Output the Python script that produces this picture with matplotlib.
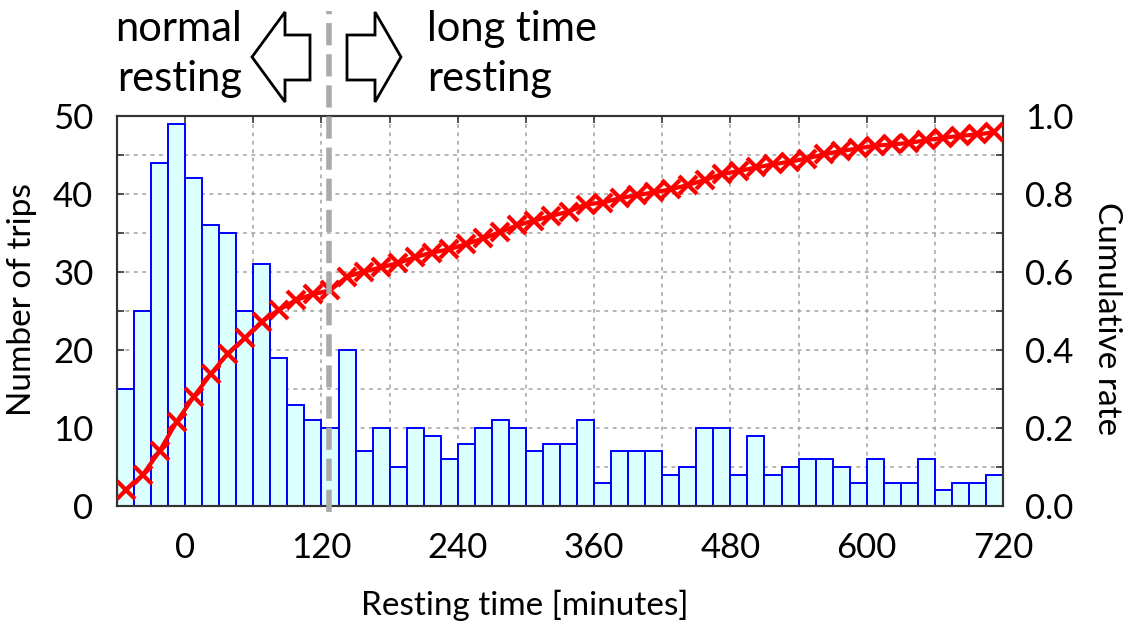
import matplotlib
matplotlib.use("Agg")
import matplotlib.pyplot as plt
import matplotlib.patches as mpatches
from matplotlib.ticker import MultipleLocator, FormatStrFormatter
import numpy as np

plt.rcParams['font.family'] = ['Lato', 'DejaVu Sans']

# histogram: 15-minute bins from -60 to 720 minutes
bin_start = -60
bin_width = 15
trip_counts = [15, 25, 44, 49, 42, 36, 35, 25, 31, 19, 13, 11, 10, 20, 7, 10, 5, 10,
               9, 6, 8, 10, 11, 10, 7, 8, 8, 11, 3, 7, 7, 7, 4, 5, 10, 10, 4, 9,
               4, 5, 6, 6, 5, 3, 6, 3, 3, 6, 2, 3, 3, 4]
# cumulative rate at each bin centre
cumulative_rate = [0.041, 0.079, 0.141, 0.216, 0.280, 0.338, 0.391, 0.430, 0.473, 0.503,
                   0.528, 0.543, 0.553, 0.588, 0.601, 0.612, 0.623, 0.638, 0.650, 0.658,
                   0.672, 0.686, 0.703, 0.720, 0.732, 0.744, 0.755, 0.773, 0.778, 0.789,
                   0.797, 0.804, 0.812, 0.823, 0.836, 0.851, 0.859, 0.868, 0.876, 0.883,
                   0.891, 0.902, 0.910, 0.917, 0.924, 0.927, 0.931, 0.938, 0.944, 0.949,
                   0.953, 0.958]
x_ticks = [0, 120, 240, 360, 480, 600, 720]
threshold = 127  # boundary between normal and long time resting

edges = bin_start + bin_width * np.arange(len(trip_counts))
centres = edges + bin_width / 2

fig = plt.figure(figsize=(11.25, 6.28), dpi=100)
ax = fig.add_axes([117 / 1125, 1 - 506 / 628, 886 / 1125, 390 / 628])

ax.bar(edges, trip_counts, width=bin_width, align='edge',
       color='#dcffff', edgecolor='#0000ff', linewidth=1.4, zorder=2)
ax.set_xlim(-60, 720)
ax.set_ylim(0, 50)
ax.set_axisbelow(True)
ax.xaxis.set_minor_locator(MultipleLocator(60))
ax.yaxis.set_major_locator(MultipleLocator(10))
ax.yaxis.set_minor_locator(MultipleLocator(5))
ax.set_xticks(x_ticks)
ax.grid(which='both', color='#a0a0a0', linestyle=(0, (2.5, 3)), linewidth=1.1)
ax.tick_params(which='both', direction='in', top=True, length=5, width=1.2,
               labelsize=25, color='#333333')
ax.tick_params(axis='x', pad=19)
ax.tick_params(axis='y', pad=17)
for s in ax.spines.values():
    s.set_linewidth(1.5)
    s.set_color('#333333')
ax.set_xlabel('Resting time [minutes]', fontsize=24)
ax.xaxis.set_label_coords(0.46, -0.215)
ax.set_ylabel('Number of trips', fontsize=24)
ax.yaxis.set_label_coords(-0.09, 0.53)

ax2 = ax.twinx()
ax2.plot(centres, cumulative_rate, color='#ff0000', linewidth=3, marker='x',
         markersize=13, markeredgewidth=3, zorder=3)
ax2.set_ylim(0, 1.0)
ax2.yaxis.set_major_locator(MultipleLocator(0.2))
ax2.yaxis.set_minor_locator(MultipleLocator(0.1))
ax2.yaxis.set_major_formatter(FormatStrFormatter('%.1f'))
ax2.tick_params(which='both', direction='in', length=5, width=1.2, labelsize=25,
                pad=16, color='#333333')
ax2.set_ylabel('Cumulative rate', fontsize=24, rotation=270)
ax2.yaxis.set_label_coords(1.134, 0.48)
for s in ax2.spines.values():
    s.set_linewidth(1.5)
    s.set_color('#333333')

# grey dashed boundary, reaching above the plot
ax2.plot([threshold, threshold], [-0.015, 1.27], transform=ax2.get_xaxis_transform(),
         color='#aaaaaa', linewidth=4, linestyle=(0, (4, 1.6)), clip_on=False, zorder=5)

# overlay in pixel coordinates for the annotation arrows and texts
ov = fig.add_axes([0, 0, 1, 1], facecolor='none')
ov.set_xlim(0, 1125)
ov.set_ylim(628, 0)
ov.axis('off')

left_arrow = [(252, 57), (285, 12), (285, 35), (310, 35), (310, 80), (285, 80), (285, 102)]
right_arrow = [(401, 57), (375, 12), (375, 35), (347, 35), (347, 80), (375, 80), (375, 102)]
for pts in (left_arrow, right_arrow):
    ov.add_patch(mpatches.Polygon(pts, closed=True, facecolor='white',
                                  edgecolor='black', linewidth=2))

ov.text(242, 54, 'normal\nresting', ha='right', va='center', fontsize=30,
        linespacing=1.4)
ov.text(427, 54, 'long time\nresting', ha='left', va='center', fontsize=30,
        linespacing=1.4)

fig.savefig('out.png', dpi=100)
